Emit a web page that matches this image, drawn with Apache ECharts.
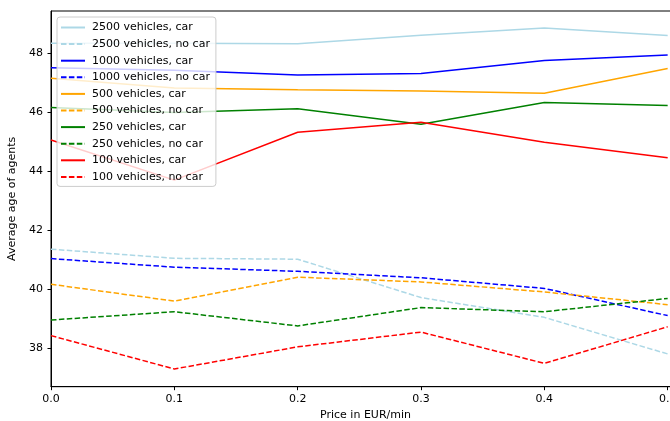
<!DOCTYPE html>
<html>
<head>
<meta charset="utf-8">
<script src="https://cdn.jsdelivr.net/npm/echarts@6/dist/echarts.min.js"></script>
<style>html,body{margin:0;padding:0;background:#fff;overflow:hidden}#c{width:670px;height:421px}</style>
</head>
<body>
<div id="c"></div>
<script>
const prices = [0.0, 0.1, 0.2, 0.3, 0.4, 0.5];
const yTicks = [38, 40, 42, 44, 46, 48];
const xTicks = [0.0, 0.1, 0.2, 0.3, 0.4, 0.5];

const car2500   = [48.34, 48.34, 48.32, 48.61, 48.85, 48.60];
const noCar2500 = [41.36, 41.05, 41.02, 39.72, 39.05, 37.81];
const car1000   = [47.51, 47.42, 47.26, 47.31, 47.75, 47.94];
const noCar1000 = [41.04, 40.75, 40.61, 40.39, 40.03, 39.11];
const car500    = [47.15, 46.82, 46.76, 46.72, 46.64, 47.48];
const noCar500  = [40.17, 39.60, 40.41, 40.25, 39.91, 39.48];
const car250    = [46.16, 45.99, 46.12, 45.59, 46.33, 46.23];
const noCar250  = [38.96, 39.24, 38.76, 39.38, 39.24, 39.69];
const car100    = [45.06, 43.70, 45.32, 45.66, 44.98, 44.46];
const noCar100  = [38.43, 37.30, 38.05, 38.55, 37.49, 38.73];

const seriesDefs = [
  ['2500 vehicles, car', car2500, '#add8e6', 'solid'],
  ['2500 vehicles, no car', noCar2500, '#add8e6', 'dashed'],
  ['1000 vehicles, car', car1000, '#0000ff', 'solid'],
  ['1000 vehicles, no car', noCar1000, '#0000ff', 'dashed'],
  ['500 vehicles, car', car500, '#ffa500', 'solid'],
  ['500 vehicles, no car', noCar500, '#ffa500', 'dashed'],
  ['250 vehicles, car', car250, '#008000', 'solid'],
  ['250 vehicles, no car', noCar250, '#008000', 'dashed'],
  ['100 vehicles, car', car100, '#ff0000', 'solid'],
  ['100 vehicles, no car', noCar100, '#ff0000', 'dashed']
];

const font = 'DejaVu Sans';
const fs = 11;
const chart = echarts.init(document.getElementById('c'), null, {renderer: 'canvas'});
chart.setOption({
  animation: false,
  backgroundColor: '#fff',
  textStyle: {fontFamily: font},
  grid: {left: 51, top: 11, width: 629, height: 375.7, outerBoundsMode: 'none', containLabel: false,
    show: true, borderColor: '#000', borderWidth: 1, backgroundColor: 'transparent'},
  legend: {
    orient: 'vertical', left: 57, top: 17,
    backgroundColor: 'rgba(255,255,255,0.8)', borderColor: '#cccccc', borderWidth: 1, borderRadius: 3,
    padding: [5, 6, 4, 3],
    itemWidth: 24, itemHeight: 10, itemGap: 5.6,
    itemStyle: {opacity: 0},
    textStyle: {fontFamily: font, fontSize: fs, color: '#000', padding: [0, 0, 0, 2]},
    data: seriesDefs.map(d => d[0])
  },
  xAxis: {
    type: 'value', min: 0, max: 0.51,
    name: 'Price in EUR/min', nameLocation: 'middle', nameGap: 21,
    nameTextStyle: {fontFamily: font, fontSize: fs, color: '#000'},
    axisLine: {show: true, lineStyle: {color: '#000', width: 1}},
    axisTick: {show: true, customValues: xTicks, length: 3.5, lineStyle: {color: '#000'}},
    axisLabel: {show: true, customValues: xTicks, fontFamily: font, fontSize: fs, color: '#000', margin: 7,
      formatter: v => v.toFixed(1)},
    splitLine: {show: false}
  },
  yAxis: {
    type: 'value', min: 36.70, max: 49.43,
    name: 'Average age of agents', nameLocation: 'middle', nameGap: 28,
    nameTextStyle: {fontFamily: font, fontSize: fs, color: '#000'},
    axisLine: {show: true, lineStyle: {color: '#000', width: 1}},
    axisTick: {show: true, customValues: yTicks, length: 3.5, lineStyle: {color: '#000'}},
    axisLabel: {show: true, customValues: yTicks, fontFamily: font, fontSize: fs, color: '#000', margin: 8,
      formatter: v => String(v)},
    splitLine: {show: false}
  },
  series: seriesDefs.map(d => ({
    name: d[0], type: 'line', symbol: 'none', showSymbol: false,
    data: prices.map((p, i) => [p, d[1][i]]),
    color: d[2],
    lineStyle: {color: d[2], width: 1.5, type: d[3] === 'dashed' ? [5.5, 2.4] : 'solid'},
    clip: true
  }))
});
</script>
</body>
</html>
